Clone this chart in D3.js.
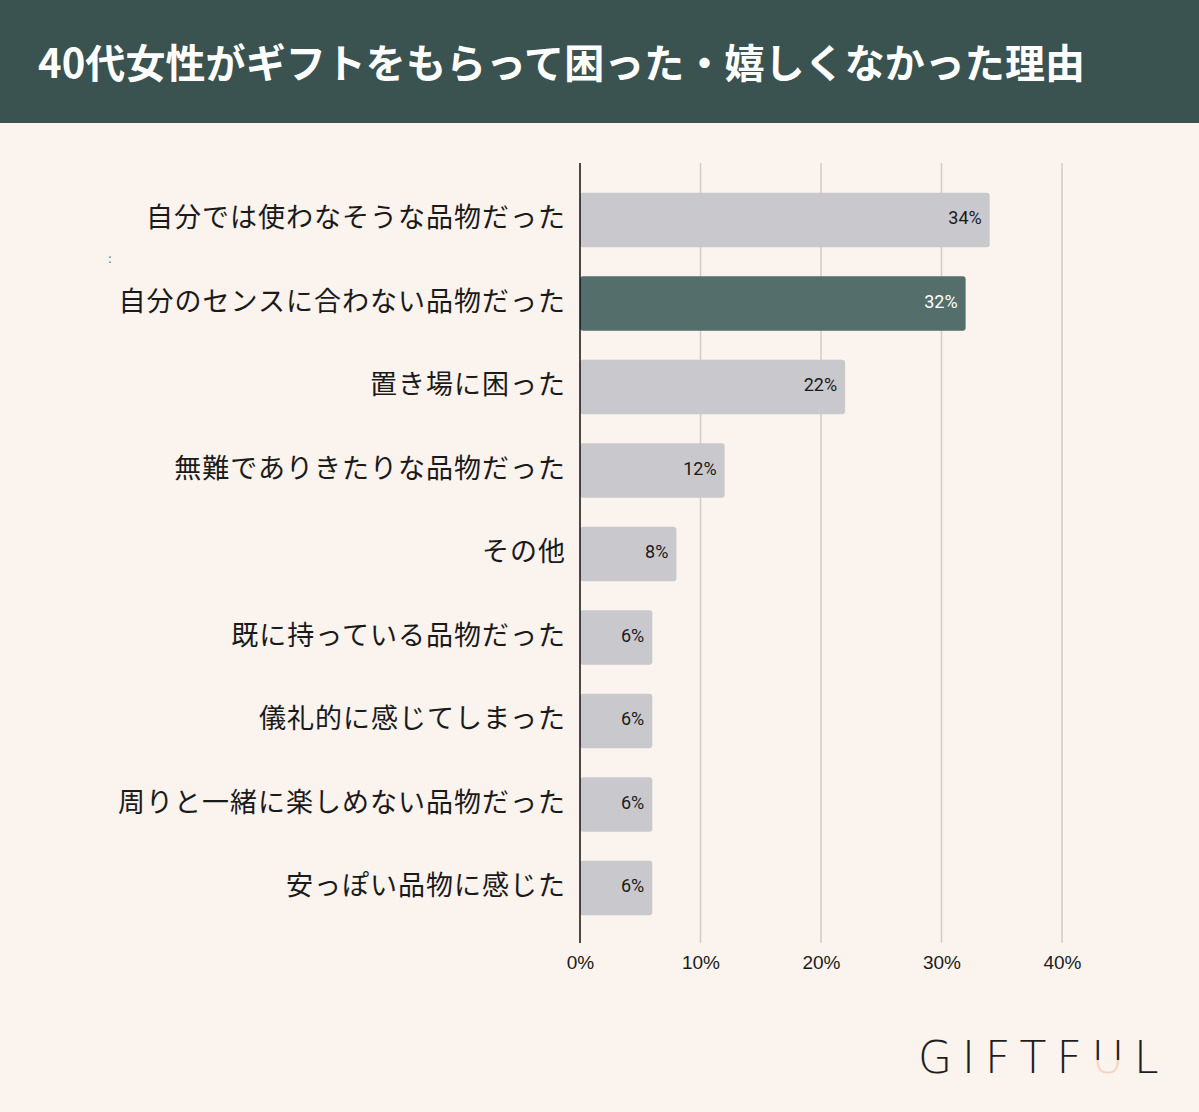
<!DOCTYPE html>
<html><head><meta charset="utf-8">
<script src="https://cdn.jsdelivr.net/npm/d3@7/dist/d3.min.js"></script>
<style>
html,body{margin:0;padding:0;background:#faf3ee;}
svg{display:block;}
</style></head>
<body>
<script>
const categories = ["自分では使わなそうな品物だった","自分のセンスに合わない品物だった","置き場に困った","無難でありきたりな品物だった","その他","既に持っている品物だった","儀礼的に感じてしまった","周りと一緒に楽しめない品物だった","安っぽい品物に感じた"];
const values = [34,32,22,12,8,6,6,6,6];
const highlight = [false,true,false,false,false,false,false,false,false];
const tickValues = [0,10,20,30,40];
const title = "40代女性がギフトをもらって困った・嬉しくなかった理由";

const W=1199,H=1112;
const font = "'Noto Sans CJK JP','Noto Sans',sans-serif";
const numFont = "Roboto,'Noto Sans',sans-serif";
const svg = d3.select("body").append("svg").attr("width",W).attr("height",H);
svg.append("rect").attr("width",W).attr("height",H).attr("fill","#faf3ee");
svg.append("rect").attr("width",W).attr("height",123).attr("fill","#3a5250");
svg.append("text").attr("x",38).attr("y",78).attr("fill","#fff").attr("font-family",font)
  .attr("font-size",40).attr("font-weight",700).attr("textLength",1047).text(title);

const x = d3.scaleLinear().domain([0,40]).range([580,1062]);
const y = d3.scaleBand().domain(categories).range([178.25,929.75]).paddingInner(0.35).paddingOuter(0.175);

const g = svg.append("g");
g.selectAll(".grid").data(tickValues.slice(1)).join("line")
  .attr("x1",d=>x(d)).attr("x2",d=>x(d)).attr("y1",163).attr("y2",943)
  .attr("stroke","#d3cbc8").attr("stroke-width",1.5);

g.selectAll(".bar").data(values).join("rect")
  .attr("x",x(0)).attr("y",(d,i)=>y(categories[i]))
  .attr("width",d=>x(d)-x(0)).attr("height",y.bandwidth())
  .attr("rx",3).attr("fill",(d,i)=>highlight[i]?"#546e6c":"#c9c8cc");

g.selectAll(".val").data(values).join("text")
  .attr("x",d=>x(d)-8).attr("y",(d,i)=>y(categories[i])+y.bandwidth()/2-2)
  .attr("dy","0.35em").attr("text-anchor","end").attr("font-family",numFont)
  .attr("font-size",18).attr("fill",(d,i)=>highlight[i]?"#fff":"#1a1a1a")
  .text(d=>d+"%");

g.selectAll(".cat").data(categories).join("text")
  .attr("x",566).attr("y",d=>y(d)+y.bandwidth()/2-2).attr("dy","0.35em")
  .attr("text-anchor","end").attr("font-family",font).attr("font-size",27)
  .attr("letter-spacing",1).attr("fill","#1a1a1a").text(d=>d);

g.append("line").attr("x1",x(0)).attr("x2",x(0)).attr("y1",163).attr("y2",943)
  .attr("stroke","#111").attr("stroke-width",1.5);

const ax = svg.append("g").attr("transform","translate(0,943)")
  .call(d3.axisBottom(x).tickValues(tickValues).tickFormat(d=>d+"%").tickSize(0).tickPadding(13));
ax.select(".domain").remove();
ax.selectAll("text").attr("font-family","'Liberation Sans',Arial,sans-serif").attr("font-size",19).attr("fill","#1a1a1a");

svg.append("text").attr("x",110).attr("y",263).attr("font-size",12).attr("fill","#777")
  .attr("text-anchor","middle").attr("font-family",font).text(":");

// logo
const defs = svg.append("defs");
const lg = defs.append("linearGradient").attr("id","ug").attr("x1",0).attr("x2",0).attr("y1",0).attr("y2",1);
lg.append("stop").attr("offset","55%").attr("stop-color","#1e1e1e");
lg.append("stop").attr("offset","55%").attr("stop-color","#f3d6c0");
const logo = svg.append("text").attr("x",918).attr("y",1073).attr("font-family","'DejaVu Sans','Liberation Sans',sans-serif")
  .attr("font-size",44).attr("font-weight",200).attr("letter-spacing",10).attr("fill","#1e1e1e");
logo.append("tspan").text("GIFTF");
logo.append("tspan").attr("fill","url(#ug)").text("U");
logo.append("tspan").text("L");
</script>
</body></html>
